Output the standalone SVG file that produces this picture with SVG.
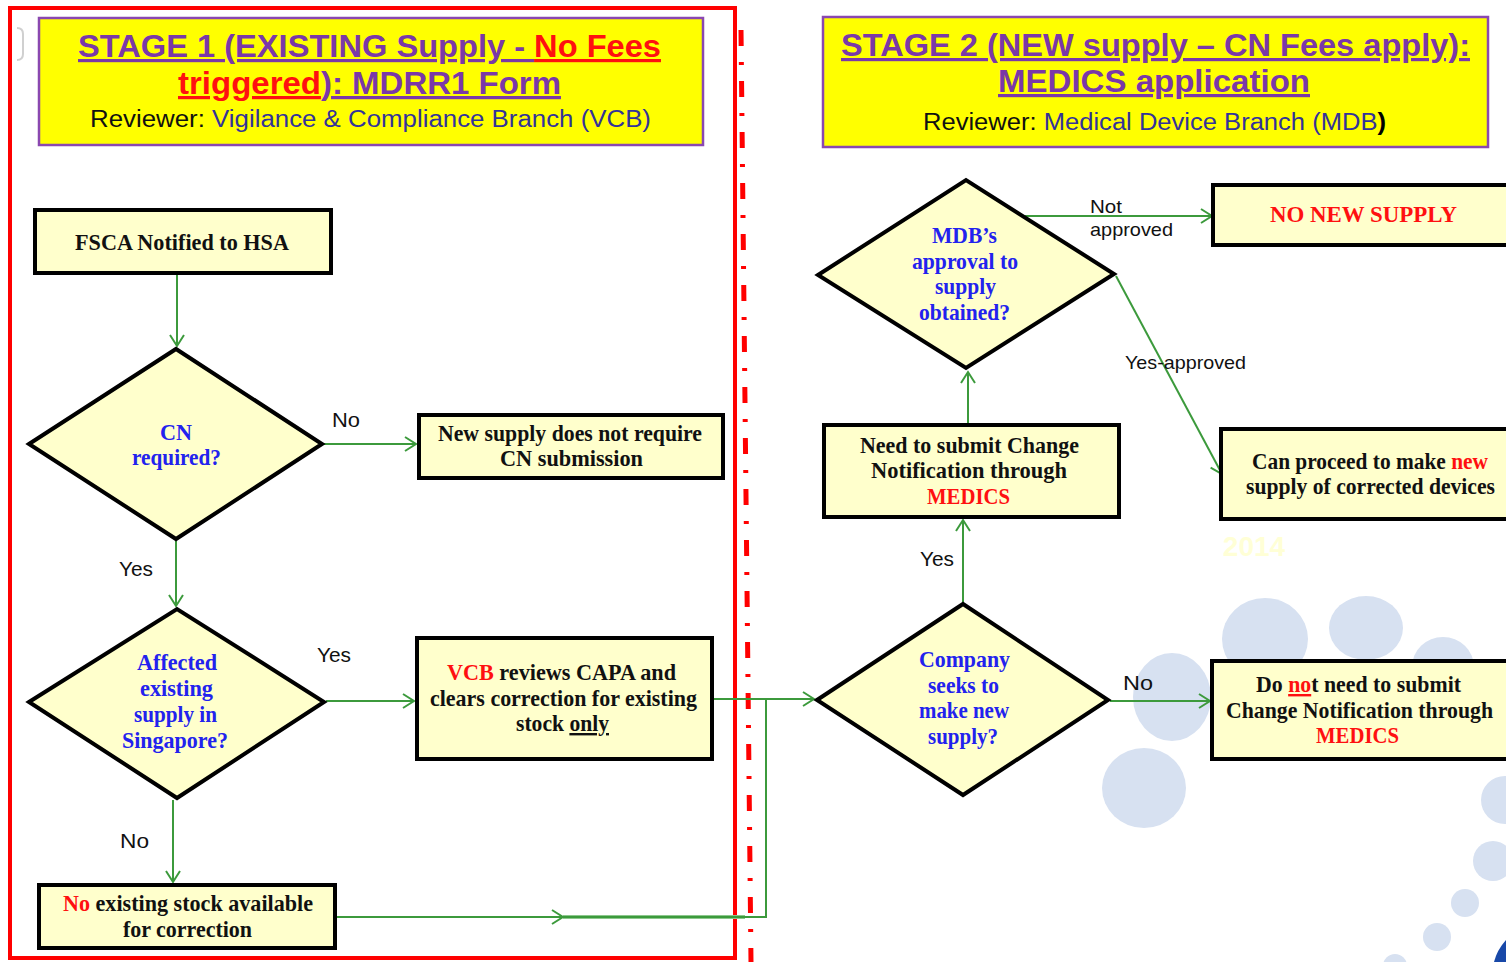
<svg xmlns="http://www.w3.org/2000/svg" width="1506" height="962" viewBox="0 0 1506 962">
<style>
  .box{fill:#FFFFCC;stroke:#000;stroke-width:4}
  .hdr{fill:#FFFF00;stroke:#8A48B0;stroke-width:2.5}
  .t{font-family:"Liberation Serif","Times New Roman",serif;font-size:24px;font-weight:bold;fill:#111;text-anchor:middle}
  .q{fill:#2222EE}
  .r{fill:#FF1010}
  .lbl{font-family:"Liberation Sans",Arial,sans-serif;font-size:20px;fill:#111}
  .sl{font-family:"Liberation Sans",Arial,sans-serif;font-size:19px;fill:#111}
  .conn{fill:none;stroke:#3C9A3C;stroke-width:2}
  .h1{font-family:"Liberation Sans",Arial,sans-serif;font-size:32px;font-weight:bold;fill:#7A38A8;text-anchor:middle}
  .h3{font-family:"Liberation Sans",Arial,sans-serif;font-size:23px;fill:#33339A;text-anchor:middle}
  .u{text-decoration:underline}
  .bg{fill:#D7E1F1}
</style>
<defs>
  <marker id="arr" markerUnits="userSpaceOnUse" markerWidth="16" markerHeight="16" viewBox="-13 -8 15 16" refX="0" refY="0" orient="auto">
    <path d="M-11,-7 L0,0 L-11,7" fill="none" stroke="#3C9A3C" stroke-width="2"/>
  </marker>
</defs>

<g id="background">
  <ellipse class="bg" cx="1265" cy="639" rx="43" ry="41"/>
  <ellipse class="bg" cx="1366" cy="628" rx="37" ry="32"/>
  <ellipse class="bg" cx="1172" cy="697" rx="39" ry="44"/>
  <ellipse class="bg" cx="1443" cy="667" rx="31" ry="30"/>
  <ellipse class="bg" cx="1144" cy="788" rx="42" ry="40"/>
  <circle class="bg" cx="1505" cy="800" r="24"/>
  <circle class="bg" cx="1493" cy="861" r="20"/>
  <circle class="bg" cx="1465" cy="903" r="14"/>
  <circle class="bg" cx="1437" cy="937" r="14"/>
  <circle class="bg" cx="1395" cy="966" r="12"/>
  <path d="M1506,940 Q1497,950 1494,962 L1506,962 Z" fill="#1848A8"/>
  <text x="1254" y="556" font-family="Liberation Sans,Arial,sans-serif" font-size="28" font-weight="bold" fill="#FFFFD6" text-anchor="middle">2014</text>
  <path d="M17,28 Q23,28 23,34 V54 Q23,60 17,60" fill="none" stroke="#D0D0D0" stroke-width="2"/>
</g>

<g id="frame">
  <rect x="10" y="8" width="725" height="950" fill="none" stroke="#FF0000" stroke-width="4"/>
  <line x1="741" y1="30" x2="751" y2="962" stroke="#FF0000" stroke-width="5" stroke-dasharray="16 16 3 16"/>
</g>

<g id="header1">
  <rect class="hdr" x="39" y="18" width="664" height="127"/>
  <text class="h1" x="369.5" y="57" textLength="583" lengthAdjust="spacingAndGlyphs"><tspan class="u">STAGE 1 (EXISTING Supply - </tspan><tspan class="u r">No Fees</tspan></text>
  <text class="h1" x="369.5" y="94" textLength="383" lengthAdjust="spacingAndGlyphs"><tspan class="u r">triggered</tspan><tspan class="u">): MDRR1 Form</tspan></text>
  <text class="h3" x="370.5" y="127" textLength="561" lengthAdjust="spacingAndGlyphs"><tspan fill="#111">Reviewer: </tspan>Vigilance &amp; Compliance  Branch (VCB)</text>
</g>

<g id="header2">
  <rect class="hdr" x="823" y="17" width="665" height="130"/>
  <text class="h1" x="1155.5" y="56" textLength="629" lengthAdjust="spacingAndGlyphs"><tspan class="u">STAGE 2 (NEW supply – CN Fees apply):</tspan></text>
  <text class="h1" x="1154" y="92" textLength="312" lengthAdjust="spacingAndGlyphs"><tspan class="u">MEDICS application</tspan></text>
  <text class="h3" x="1154.5" y="130" textLength="463" lengthAdjust="spacingAndGlyphs"><tspan fill="#111">Reviewer: </tspan>Medical Device Branch (MDB<tspan fill="#000" font-weight="bold">)</tspan></text>
</g>

<g id="connectors">
  <path class="conn" d="M177,275 V346" marker-end="url(#arr)"/>
  <path class="conn" d="M324,444 H416" marker-end="url(#arr)"/>
  <path class="conn" d="M176,541 V606" marker-end="url(#arr)"/>
  <path class="conn" d="M326,701 H414" marker-end="url(#arr)"/>
  <path class="conn" d="M173,800 V882" marker-end="url(#arr)"/>
  <path class="conn" d="M714,699 H814" marker-end="url(#arr)"/>
  <path d="M563,917 H745" fill="none" stroke="#8CC88C" stroke-width="4"/>
  <path class="conn" d="M337,917 H563" marker-end="url(#arr)"/>
  <path class="conn" d="M563,917 H766 V700"/>
  <path class="conn" d="M963,603 V520" marker-end="url(#arr)"/>
  <path class="conn" d="M968,424 V372" marker-end="url(#arr)"/>
  <path class="conn" d="M1025,216 H1212" marker-end="url(#arr)"/>
  <path class="conn" d="M1116,276 L1222,474" marker-end="url(#arr)"/>
  <path class="conn" d="M1110,701 H1210" marker-end="url(#arr)"/>
</g>

<g id="fsca">
  <rect class="box" x="35" y="210" width="296" height="63"/>
  <text class="t" x="182" y="250" textLength="214" lengthAdjust="spacingAndGlyphs">FSCA Notified to HSA</text>
</g>
<g id="cn-required">
  <polygon class="box" points="29,444 176,349 322,444 176,539"/>
  <text class="t q" x="176" y="440" textLength="32" lengthAdjust="spacingAndGlyphs">CN</text>
  <text class="t q" x="176.5" y="465" textLength="89" lengthAdjust="spacingAndGlyphs">required?</text>
</g>
<g id="no-cn">
  <rect class="box" x="419" y="415" width="304" height="63"/>
  <text class="t" x="570" y="441" textLength="264" lengthAdjust="spacingAndGlyphs">New supply does not require</text>
  <text class="t" x="571.5" y="466" textLength="143" lengthAdjust="spacingAndGlyphs">CN submission</text>
</g>
<g id="affected">
  <polygon class="box" points="29,702 177,609 324,702 177,798"/>
  <text class="t q" x="177" y="670" textLength="80" lengthAdjust="spacingAndGlyphs">Affected</text>
  <text class="t q" x="176.5" y="696" textLength="73" lengthAdjust="spacingAndGlyphs">existing</text>
  <text class="t q" x="175.5" y="722" textLength="83" lengthAdjust="spacingAndGlyphs">supply in</text>
  <text class="t q" x="175" y="748" textLength="106" lengthAdjust="spacingAndGlyphs">Singapore?</text>
</g>
<g id="vcb-reviews">
  <rect class="box" x="417" y="638" width="295" height="121"/>
  <text class="t" x="561.5" y="680" textLength="229" lengthAdjust="spacingAndGlyphs"><tspan class="r">VCB</tspan> reviews CAPA and</text>
  <text class="t" x="563.5" y="706" textLength="267" lengthAdjust="spacingAndGlyphs">clears correction for existing</text>
  <text class="t" x="562.5" y="731" textLength="93" lengthAdjust="spacingAndGlyphs">stock <tspan class="u">only</tspan></text>
</g>
<g id="no-stock">
  <rect class="box" x="39" y="885" width="296" height="63"/>
  <text class="t" x="188" y="911" textLength="250" lengthAdjust="spacingAndGlyphs"><tspan class="r">No</tspan> existing stock available</text>
  <text class="t" x="187.5" y="937" textLength="129" lengthAdjust="spacingAndGlyphs">for correction</text>
</g>
<g id="mdb-approval">
  <polygon class="box" points="818,275 966,180 1114,274 966,368"/>
  <text class="t q" x="964.5" y="243" textLength="65" lengthAdjust="spacingAndGlyphs">MDB’s</text>
  <text class="t q" x="965" y="269" textLength="106" lengthAdjust="spacingAndGlyphs">approval to</text>
  <text class="t q" x="965.5" y="294" textLength="61" lengthAdjust="spacingAndGlyphs">supply</text>
  <text class="t q" x="964.5" y="320" textLength="91" lengthAdjust="spacingAndGlyphs">obtained?</text>
</g>
<g id="no-new-supply">
  <rect class="box" x="1213" y="185" width="330" height="60"/>
  <text class="t r" x="1363.5" y="222" textLength="187" lengthAdjust="spacingAndGlyphs">NO NEW SUPPLY</text>
</g>
<g id="need-submit">
  <rect class="box" x="824" y="425" width="295" height="92"/>
  <text class="t" x="969.5" y="453" textLength="219" lengthAdjust="spacingAndGlyphs">Need to submit Change</text>
  <text class="t" x="969" y="478" textLength="196" lengthAdjust="spacingAndGlyphs">Notification through</text>
  <text class="t r" x="968.5" y="504" textLength="83" lengthAdjust="spacingAndGlyphs">MEDICS</text>
</g>
<g id="can-proceed">
  <rect class="box" x="1221" y="429" width="330" height="90"/>
  <text class="t" x="1370" y="469" textLength="236" lengthAdjust="spacingAndGlyphs">Can proceed to make <tspan class="r">new</tspan></text>
  <text class="t" x="1370.5" y="494" textLength="249" lengthAdjust="spacingAndGlyphs">supply of corrected devices</text>
</g>
<g id="company-seeks">
  <polygon class="box" points="817,700 963,604 1108,700 963,795"/>
  <text class="t q" x="964.5" y="667" textLength="91" lengthAdjust="spacingAndGlyphs">Company</text>
  <text class="t q" x="963.5" y="693" textLength="71" lengthAdjust="spacingAndGlyphs">seeks to</text>
  <text class="t q" x="964" y="718" textLength="90" lengthAdjust="spacingAndGlyphs">make new</text>
  <text class="t q" x="963" y="744" textLength="70" lengthAdjust="spacingAndGlyphs">supply?</text>
</g>
<g id="do-not-submit">
  <rect class="box" x="1212" y="661" width="330" height="98"/>
  <text class="t" x="1358.5" y="692" textLength="205" lengthAdjust="spacingAndGlyphs">Do <tspan class="r u">no</tspan>t need to submit</text>
  <text class="t" x="1359.5" y="718" textLength="267" lengthAdjust="spacingAndGlyphs">Change Notification through</text>
  <text class="t r" x="1357.5" y="743" textLength="83" lengthAdjust="spacingAndGlyphs">MEDICS</text>
</g>

<g id="labels">
  <text class="lbl" x="332" y="427" textLength="28" lengthAdjust="spacingAndGlyphs">No</text>
  <text class="lbl" x="119" y="576" textLength="34" lengthAdjust="spacingAndGlyphs">Yes</text>
  <text class="lbl" x="317" y="662" textLength="34" lengthAdjust="spacingAndGlyphs">Yes</text>
  <text class="lbl" x="120" y="848" textLength="29" lengthAdjust="spacingAndGlyphs">No</text>
  <text class="lbl" x="920" y="566" textLength="34" lengthAdjust="spacingAndGlyphs">Yes</text>
  <text class="lbl" x="1123" y="690" textLength="30" lengthAdjust="spacingAndGlyphs">No</text>
  <text class="sl" x="1090" y="213" textLength="32" lengthAdjust="spacingAndGlyphs">Not</text>
  <text class="sl" x="1090" y="236" textLength="83" lengthAdjust="spacingAndGlyphs">approved</text>
  <text class="sl" x="1125" y="369" textLength="121" lengthAdjust="spacingAndGlyphs">Yes-approved</text>
</g>
</svg>
